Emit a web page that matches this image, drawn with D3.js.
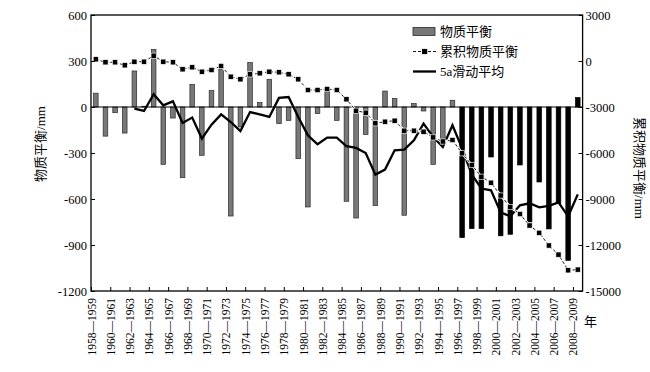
<!DOCTYPE html>
<html>
<head>
<meta charset="utf-8">
<script src="https://cdn.jsdelivr.net/npm/d3@7"></script>
<style>
  body { margin: 0; background: #fff; }
  svg text { font-family: "Liberation Serif", "DejaVu Serif", serif; fill: #000; }
  svg text.cjk { font-family: "Liberation Serif", "Noto Sans CJK SC", serif; }
</style>
</head>
<body>
<svg id="chart" width="650" height="372"></svg>
<script>
const years = [1959,1960,1961,1962,1963,1964,1965,1966,1967,1968,1969,1970,1971,1972,1973,1974,1975,1976,1977,1978,
  1979,1980,1981,1982,1983,1984,1985,1986,1987,1988,1989,1990,1991,1992,1993,1994,1995,1996,1997,1998,
  1999,2000,2001,2002,2003,2004,2005,2006,2007,2008,2009];

// annual mass balance, mm (left axis)
const massBalance = [90,-190,-37,-170,235,5,376,-374,-72,-461,148,-315,107,244,-711,-130,290,29,181,-108,
  -87,-337,-652,-43,126,-87,-615,-724,-180,-643,104,55,-706,22,-26,-374,-239,44,-852,-793,
  -793,-326,-840,-830,-378,-750,-489,-795,-630,-1000,61];

// cumulative mass balance, mm (right axis)
const cumulative = [111,-85,-85,-281,-46,-46,346,-46,-85,-541,-411,-698,-587,-326,-1024,-1194,-868,-803,-698,-737,
  -868,-1194,-1892,-1892,-1826,-1892,-2498,-3242,-3372,-4063,-3959,-3894,-4546,-4546,-4611,-4983,-5250,-5153,-6020,-6783,
  -7546,-7937,-8772,-9522,-9979,-10729,-11205,-12033,-12627,-13651,-13605];

// 5a moving average, mm (left axis)
const movingAvg = [null,null,null,null,-10,-26,83,11,37,-104,-69,-206,-115,-48,-98,-157,-33,-48,-65,59,
  65,-65,-185,-243,-200,-200,-256,-267,-300,-441,-408,-282,-278,-217,-108,-196,-261,-119,-270,-440,
  -532,-543,-687,-713,-641,-628,-654,-645,-622,-713,-570];

const tickLabels = ["1958—1959","1960—1961","1962—1963","1964—1965","1966—1967","1968—1969","1970—1971",
  "1972—1973","1974—1975","1976—1977","1978—1979","1980—1981","1982—1983","1984—1985","1986—1987",
  "1988—1989","1990—1991","1992—1993","1994—1995","1996—1997","1998—1999","2000—2001","2002—2003",
  "2004—2005","2006—2007","2008—2009"];

const leftTicks = [600,300,0,-300,-600,-900,-1200];
const rightTicks = [3000,0,-3000,-6000,-9000,-12000,-15000];
const legendLabels = ["物质平衡","累积物质平衡","5a滑动平均"];
const splitYear = 1997;   // later years drawn as black bars

const svg = d3.select("#chart");
const pL = 91, pR = 582.6, pT = 15, pB = 291;

const x = d3.scaleLinear().domain([0, years.length]).range([pL, pR]);
const y = d3.scaleLinear().domain([-1200, 600]).range([pB, pT]);
const yR = d3.scaleLinear().domain([-15000, 3000]).range([pB, pT]);

// bars
const barW = 4.6;
svg.append("g").attr("class", "bars")
  .selectAll("rect")
  .data(massBalance)
  .join("rect")
  .attr("x", (d, i) => x(i + 0.5) - barW / 2)
  .attr("y", d => Math.min(y(d), y(0)))
  .attr("width", barW)
  .attr("height", d => Math.abs(y(d) - y(0)))
  .attr("fill", (d, i) => years[i] >= splitYear ? "#000" : "#787878")
  .attr("stroke", (d, i) => years[i] >= splitYear ? "#000" : "#2a2a2a")
  .attr("stroke-width", 0.7);

// zero line
svg.append("line")
  .attr("x1", pL).attr("x2", pR)
  .attr("y1", y(0)).attr("y2", y(0))
  .attr("stroke", "#000").attr("stroke-width", 1);

// 5a moving average
const maLine = d3.line()
  .defined(d => d != null)
  .x((d, i) => x(i + 0.5))
  .y(d => y(d));
svg.append("path")
  .datum(movingAvg)
  .attr("d", maLine)
  .attr("fill", "none")
  .attr("stroke", "#000")
  .attr("stroke-width", 2.3)
  .attr("stroke-linejoin", "miter");

// cumulative
const cumLine = d3.line()
  .x((d, i) => x(i + 0.5))
  .y(d => yR(d));
svg.append("path")
  .datum(cumulative)
  .attr("d", cumLine)
  .attr("fill", "none")
  .attr("stroke", "#fff")
  .attr("stroke-width", 2.4);
svg.append("path")
  .datum(cumulative)
  .attr("d", cumLine)
  .attr("fill", "none")
  .attr("stroke", "#000")
  .attr("stroke-width", 0.9)
  .attr("stroke-dasharray", "3,2");
svg.append("g")
  .selectAll("rect")
  .data(cumulative)
  .join("rect")
  .attr("x", (d, i) => x(i + 0.5) - 2.6)
  .attr("y", d => yR(d) - 2.6)
  .attr("width", 5.2)
  .attr("height", 5.2)
  .attr("fill", "#000")
  .attr("stroke", "#fff")
  .attr("stroke-width", 0.6);

// axes
const yAxis = svg.append("g")
  .attr("transform", `translate(${pL},0)`)
  .call(d3.axisLeft(y).tickValues(leftTicks).tickFormat(d => String(d)).tickSize(-4).tickPadding(4));
const yAxisR = svg.append("g")
  .attr("transform", `translate(${pR},0)`)
  .call(d3.axisRight(yR).tickValues(rightTicks).tickFormat(d => String(d)).tickSize(-4).tickPadding(3));
const xAxis = svg.append("g")
  .attr("transform", `translate(0,${pB})`)
  .call(d3.axisBottom(x)
    .tickValues(tickLabels.map((d, k) => k * 2))
    .tickFormat((d, k) => tickLabels[k])
    .tickSize(-4).tickSizeOuter(0));

[yAxis, yAxisR, xAxis].forEach(a => {
  a.attr("font-family", null).attr("font-size", null);
  a.select(".domain").remove();
  a.selectAll(".tick line").attr("stroke", "#000").attr("stroke-width", 1);
  a.selectAll("text").style("font-size", "12.5px");
});
xAxis.selectAll("text")
  .style("font-size", "11.5px")
  .attr("transform", "rotate(-90)")
  .attr("x", -7)
  .attr("y", 0)
  .attr("dy", "0.35em")
  .style("text-anchor", "end");

// frame
svg.append("rect")
  .attr("x", pL).attr("y", pT)
  .attr("width", pR - pL).attr("height", pB - pT)
  .attr("fill", "none").attr("stroke", "#000").attr("stroke-width", 1.3);

// axis titles
svg.append("text")
  .attr("class", "cjk")
  .attr("transform", "translate(45,144) rotate(-90)")
  .attr("text-anchor", "middle")
  .style("font-size", "13px")
  .text("物质平衡/mm");
svg.append("text")
  .attr("class", "cjk")
  .attr("transform", "translate(635,168) rotate(90)")
  .attr("text-anchor", "middle")
  .style("font-size", "13px")
  .text("累积物质平衡/mm");
svg.append("text")
  .attr("class", "cjk")
  .attr("x", 584).attr("y", 326)
  .style("font-size", "13px")
  .text("年");

// legend
const lg = svg.append("g").attr("transform", "translate(413,31.5)");
lg.append("rect")
  .attr("x", 0).attr("y", -4).attr("width", 22).attr("height", 8)
  .attr("fill", "#787878").attr("stroke", "#2a2a2a").attr("stroke-width", 0.8);
lg.append("line")
  .attr("x1", 0).attr("x2", 23).attr("y1", 20).attr("y2", 20)
  .attr("stroke", "#000").attr("stroke-width", 0.9).attr("stroke-dasharray", "3,2");
lg.append("rect")
  .attr("x", 9).attr("y", 17.4).attr("width", 5.2).attr("height", 5.2).attr("fill", "#000");
lg.append("line")
  .attr("x1", 0).attr("x2", 23).attr("y1", 40).attr("y2", 40)
  .attr("stroke", "#000").attr("stroke-width", 2.3);
lg.selectAll("text.lab")
  .data(legendLabels)
  .join("text")
  .attr("class", "lab cjk")
  .attr("x", 27)
  .attr("y", (d, i) => i * 20)
  .attr("dy", "0.35em")
  .style("font-size", "13px")
  .text(d => d);
</script>
</body>
</html>
